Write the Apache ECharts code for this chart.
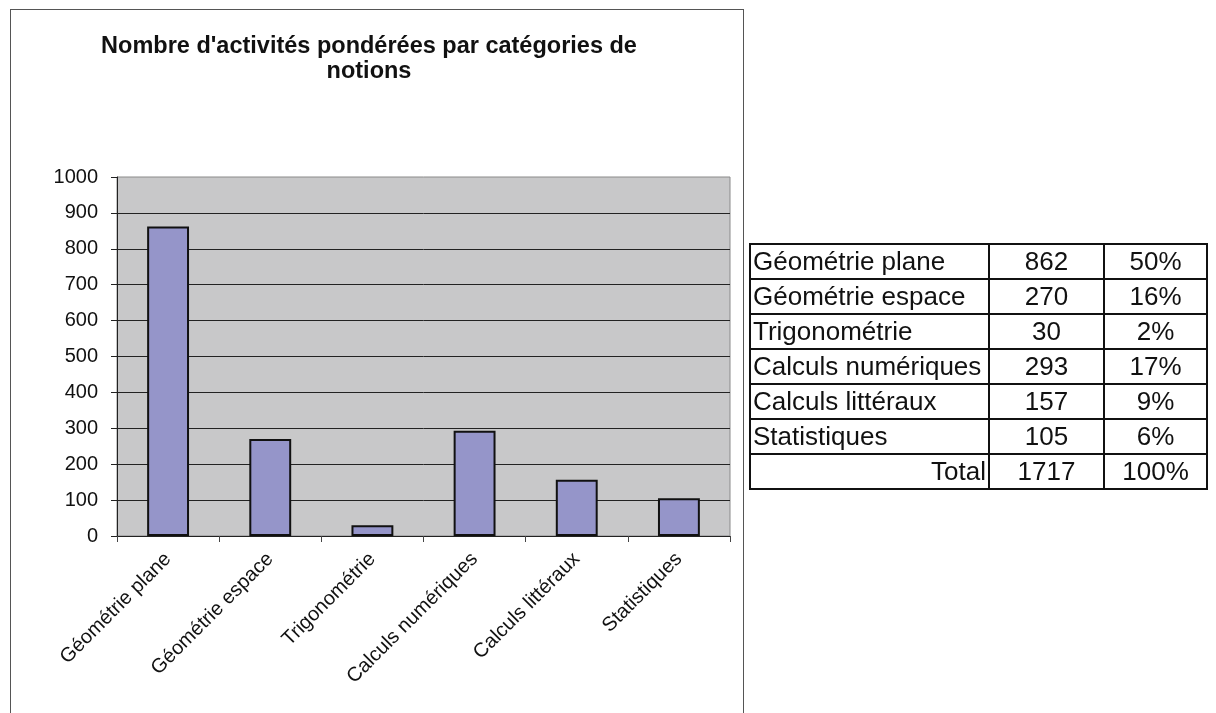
<!DOCTYPE html>
<html>
<head>
<meta charset="utf-8">
<script src="https://cdn.jsdelivr.net/npm/echarts@6/dist/echarts.min.js"></script>
<style>
	html,body{margin:0;padding:0;background:#fff;}
	#frame{position:absolute;left:10px;top:9px;width:734px;height:720px;border:1px solid #555;box-sizing:border-box;}
	#container{position:absolute;left:0;top:0;width:1216px;height:713px;}
	#tab{position:absolute;left:749px;top:243px;border-collapse:collapse;font-family:'Liberation Sans',Arial,sans-serif;font-size:26px;color:#111;}
	#tab td{border:2px solid #111;height:33px;padding:0 2px;line-height:33px;white-space:nowrap;}
	#tab td.c{text-align:center;}
</style>
</head>
<body>
<div id="frame"></div>
<div id="container"></div>
<table id="tab"></table>
<script>
// categories and values
var categories = ['Géométrie plane','Géométrie espace','Trigonométrie','Calculs numériques','Calculs littéraux','Statistiques'];
var values = [862, 270, 30, 293, 157, 105];
var percents = ['50%','16%','2%','17%','9%','6%'];
var totalValue = 1717;
var totalPercent = '100%';

var font = "'Liberation Sans', Arial, sans-serif";

var myChart = echarts.init(document.getElementById('container'));
var option = {
	animation: false,
	title: {
		text: "Nombre d'activités pondérées par catégories de\nnotions",
		left: 364,
		top: 29,
		textAlign: 'center',
		textStyle: { fontFamily: font, fontSize: 23.5, fontWeight: 'bold', color: '#111', lineHeight: 25 }
	},
	grid: {
		left: 117, top: 177, right: 486, bottom: 177,
		show: true,
		backgroundColor: '#C8C8C9',
		borderColor: '#8a8a8a',
		borderWidth: 1
	},
	xAxis: [{
		type: 'category',
		data: categories,
		axisLine: { show: true, lineStyle: { color: '#222', width: 1 } },
		axisTick: { show: true, length: 6, alignWithLabel: false, lineStyle: { color: '#444' } },
		axisLabel: { rotate: 45, fontSize: 20, fontFamily: font, color: '#111', margin: 20, interval: 0 }
	}],
	yAxis: [{
		type: 'value',
		min: 0, max: 1000, interval: 100,
		axisLine: { show: true, lineStyle: { color: '#222', width: 1 } },
		axisTick: { show: true, length: 6, lineStyle: { color: '#222' } },
		axisLabel: { fontSize: 20, fontFamily: font, color: '#111', margin: 19, formatter: function(v){ return String(v); } },
		splitLine: { show: true, showMaxLine: false, lineStyle: { color: '#222', width: 1 } }
	}],
	series: [{
		type: 'bar',
		data: values,
		barCategoryGap: '59%',
		itemStyle: { color: '#9595C9', borderColor: '#111', borderWidth: 2 }
	}]
};
myChart.setOption(option);

// table on the right, built from the same arrays
var h = '';
for (var i = 0; i < categories.length; i++) {
	h += '<tr>'
		+ '<td style="width:233px;">' + categories[i] + '</td>'
		+ '<td class="c" style="width:109px;">' + values[i] + '</td>'
		+ '<td class="c" style="width:97px;">' + percents[i] + '</td>'
		+ '</tr>';
}
h += '<tr><td style="text-align:right;">Total</td><td class="c">' + totalValue + '</td><td class="c">' + totalPercent + '</td></tr>';
document.getElementById('tab').innerHTML = h;
</script>
</body>
</html>
